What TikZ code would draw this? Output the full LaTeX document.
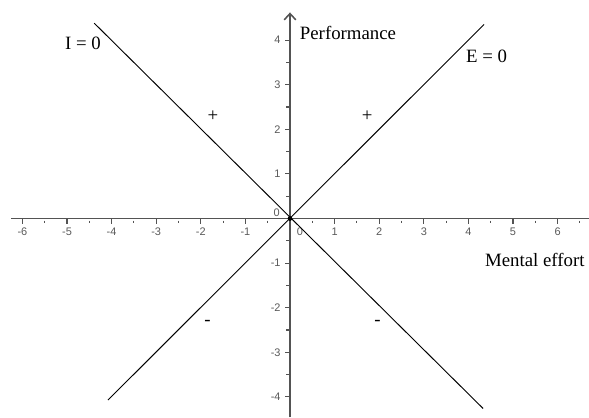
\documentclass[tikz,border=0pt]{standalone}
\usepackage{fontspec}
\setmainfont{Liberation Serif}
\setsansfont{Liberation Sans}
\usetikzlibrary{arrows.meta}

\begin{document}
\begin{tikzpicture}[x=1cm,y=1cm,>={Straight Barb[length=1.4mm,width=2.6mm]},font=\fontsize{12}{14}\selectfont,
  axis/.style={draw=gray!65!black,line width=1pt},ticklab/.style={font=\sffamily\fontsize{7}{8}\selectfont,text=gray!70!black,inner sep=1pt}]
\useasboundingbox (-6.502,-4.451) rectangle (6.704,4.899);
\draw[axis] (-6.25,0)--(6.72,0); \draw[axis,->] (0,-4.46)--(0,4.62);
\foreach \i in {-6,...,-1,1,2,...,6} {\draw[axis,line width=0.7pt] (\i,0)--(\i,-0.13); \node[ticklab] (xl\i) at (\i,-0.3){\i};}
\foreach \i in {-5.5,-4.5,...,6.5} \draw[axis,line width=0.7pt] (\i,-0.05)--(\i,-0.11);
\foreach \j in {-4,...,-1,1,2,...,4} {\draw[axis,line width=0.7pt] (0,\j)--(-0.12,\j); \node[ticklab,anchor=east] (yl\j) at (-0.17,\j){\j};}
\foreach \j in {-3.5,-2.5,...,3.5} \draw[axis,line width=0.7pt] (0,\j)--(-0.08,\j);
\node[ticklab] (xl0) at (0.22,-0.3){0}; \node[ticklab] (yl0) at (-0.3,0.12){0};
\fill (0,0) circle (1.5pt);
% lines I=0 and E=0
\coordinate (itop) at (-4.39,4.38); \coordinate (ibot) at (4.33,-4.26);
\coordinate (etop) at (4.35,4.35); \coordinate (ebot) at (-4.08,-4.07);
\draw[line width=0.6pt] (itop)--(ibot); \draw[line width=0.6pt] (ebot)--(etop);
\node (ilab) at (-4.64,3.93){I = 0}; \node (elab) at (4.41,3.63){E = 0};
\node (perf) at (1.3,4.16){Performance}; \node (effort) at (5.49,-0.93){Mental effort};
\node (plusl) at (-1.73,2.30){+}; \node (plusr) at (1.73,2.30){+};
\node (minl) at (-1.85,-2.34){-}; \node (minr) at (1.96,-2.34){-};
\end{tikzpicture}
\end{document}
